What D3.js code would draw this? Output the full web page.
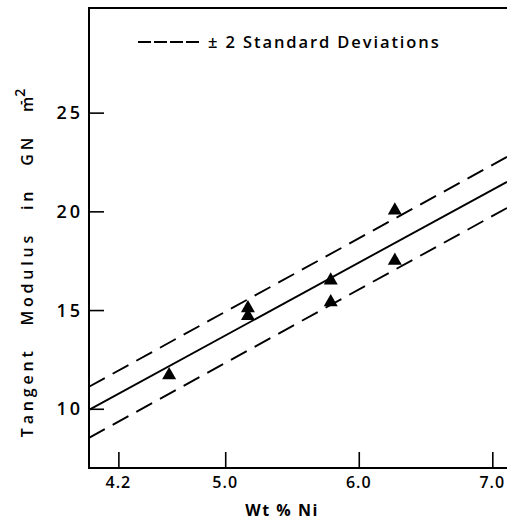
<!DOCTYPE html>
<html>
<head>
<meta charset="utf-8">
<script src="https://cdn.jsdelivr.net/npm/d3@7"></script>
<style>
  body { margin: 0; background: #fff; }
  svg { display: block; }
  text { font-family: "Open Sans", "DejaVu Sans", sans-serif; fill: #000; }
</style>
</head>
<body>
<svg id="chart" width="507" height="520"></svg>
<script>
(function(){
    'use strict';

    // measured points (Wt % Ni, tangent modulus GN m^-2)
    var niPct   = [4.58, 5.17, 5.17, 5.79, 5.79, 6.27, 6.27];
    var modulus = [11.7, 15.1, 14.7, 16.5, 15.4, 17.5, 20.05];

    // regression line and the +/- 2 s.d. lines, as [intercept, slope]
    var fitLine   = [-4.74, 3.69];
    var upperLine = [-3.69, 3.72];
    var lowerLine = [-6.28, 3.72];

    var xTicks = [4.2, 5.0, 6.0, 7.0];
    var xTickLabels = ['4.2', '5.0', '6.0', '7.0'];
    var yTicks = [10, 15, 20, 25];

    var margin = {top: 8, left: 89, right: 0, bottom: 52};
    var width = 507, height = 520;

    var svg = d3.select('#chart');

    var x = d3.scaleLinear().domain([3.98, 7.11])
        .range([margin.left, width - margin.right]);
    var y = d3.scaleLinear().domain([7.0, 30.3])
        .range([height - margin.bottom, margin.top]);

    var plot = svg.append('g');

    // frame: top, left, bottom (no right side)
    plot.append('path')
        .attr('d', 'M' + (x.range()[1] + 2) + ',' + y.range()[1] +
                   'H' + x.range()[0] + 'V' + y.range()[0] + 'H' + (x.range()[1] + 2))
        .attr('fill', 'none').attr('stroke', '#000').attr('stroke-width', 2);

    // ticks pointing inward
    var xAxis = d3.axisTop(x).tickValues(xTicks).tickSize(16).tickFormat('');
    plot.append('g').attr('transform', 'translate(0,' + y.range()[0] + ')')
        .call(xAxis)
        .call(function(g) { g.select('.domain').remove(); })
        .selectAll('line').attr('stroke-width', 1.6);

    var yAxis = d3.axisRight(y).tickValues(yTicks).tickSize(15).tickFormat('');
    plot.append('g').attr('transform', 'translate(' + x.range()[0] + ',0)')
        .call(yAxis)
        .call(function(g) { g.select('.domain').remove(); })
        .selectAll('line').attr('stroke-width', 1.6);

    // tick labels
    plot.selectAll('.xlab').data(xTicks).enter().append('text')
        .attr('class', 'xlab')
        .attr('x', function(d) { return x(d); })
        .attr('y', y.range()[0] + 20)
        .attr('text-anchor', 'middle')
        .attr('font-size', 16).attr('font-weight', 600)
        .attr('letter-spacing', 1)
        .text(function(d, i) { return xTickLabels[i]; });

    plot.selectAll('.ylab').data(yTicks).enter().append('text')
        .attr('class', 'ylab')
        .attr('x', x.range()[0] - 6)
        .attr('y', function(d) { return y(d) + 6.5; })
        .attr('text-anchor', 'end')
        .attr('font-size', 18).attr('font-weight', 600)
        .attr('letter-spacing', 3)
        .text(function(d) { return d; });

    // clip lines to plot area
    svg.append('clipPath').attr('id', 'clip').append('rect')
        .attr('x', x.range()[0]).attr('y', y.range()[1])
        .attr('width', x.range()[1] - x.range()[0])
        .attr('height', y.range()[0] - y.range()[1]);

    var line = d3.line().x(function(d) { return x(d[0]); }).y(function(d) { return y(d[1]); });
    var ends = x.domain();
    var fits = [
        {coef: fitLine, dash: null},
        {coef: upperLine, dash: '18,9'},
        {coef: lowerLine, dash: '18,9'}
    ];

    plot.append('g').attr('clip-path', 'url(#clip)')
        .selectAll('path').data(fits).enter().append('path')
        .attr('d', function(f) {
            return line(ends.map(function(v) { return [v, f.coef[0] + f.coef[1] * v]; }));
        })
        .attr('fill', 'none').attr('stroke', '#000').attr('stroke-width', 1.9)
        .attr('stroke-dasharray', function(f) { return f.dash; });

    // triangles
    var tri = d3.symbol().type(d3.symbolTriangle).size(85);
    plot.selectAll('.pt').data(niPct).enter().append('path')
        .attr('class', 'pt')
        .attr('d', tri)
        .attr('transform', function(d, i) { return 'translate(' + x(d) + ',' + y(modulus[i]) + ')'; })
        .attr('fill', '#000');

    // legend
    plot.append('line')
        .attr('x1', 138).attr('x2', 199).attr('y1', 42).attr('y2', 42)
        .attr('stroke', '#000').attr('stroke-width', 1.9).attr('stroke-dasharray', '13,3');
    plot.append('text')
        .attr('x', 208).attr('y', 48)
        .attr('font-size', 16.5).attr('font-weight', 600).attr('letter-spacing', 1.9)
        .text('\u00b1 2 Standard Deviations');

    // axis titles
    plot.append('text')
        .attr('x', 282).attr('y', 516)
        .attr('text-anchor', 'middle')
        .attr('font-size', 16).attr('font-weight', 700).attr('letter-spacing', 1.5)
        .text('Wt % Ni');

    var yt = plot.append('text')
        .attr('transform', 'translate(33,261) rotate(-90)')
        .attr('text-anchor', 'middle')
        .attr('font-size', 16).attr('font-weight', 600).attr('letter-spacing', 3.8)
        .attr('word-spacing', 14);
    yt.append('tspan').text('Tangent Modulus in GN m');
    yt.append('tspan').attr('dy', -8).attr('dx', -12).attr('font-size', 14).text('-2');
})();
</script>
</body>
</html>
